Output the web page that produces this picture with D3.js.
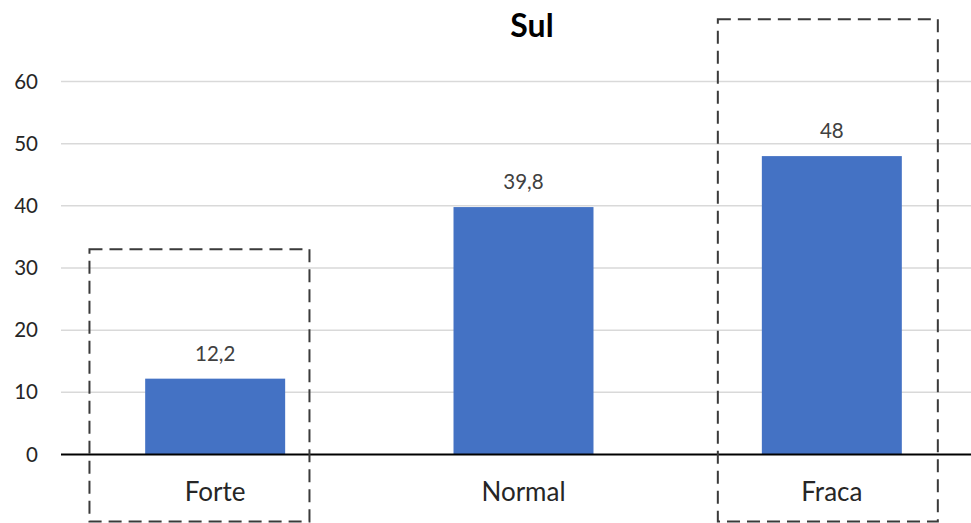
<!DOCTYPE html>
<html>
<head>
<meta charset="utf-8">
<script src="https://cdn.jsdelivr.net/npm/d3@7"></script>
<style>
  html, body { margin: 0; padding: 0; background: #fff; }
  svg { display: block; font-family: Lato, "Open Sans", sans-serif; }
</style>
</head>
<body>
<svg id="chart" width="971" height="523"></svg>
<script>
const title = "Sul";
const categories = ["Forte", "Normal", "Fraca"];
const values = [12.2, 39.8, 48];
const valueLabels = ["12,2", "39,8", "48"];
const yTicks = [0, 10, 20, 30, 40, 50, 60];
const highlightCats = ["Forte", "Fraca"];
const highlightTops = [33, 70];

const svg = d3.select("#chart");
const W = 971, H = 523;

const x = d3.scaleBand()
  .domain(categories)
  .range([61, 986])
  .paddingInner(0.546)
  .paddingOuter(0.273);

const y = d3.scaleLinear().domain([0, 60]).range([454.5, 81.5]);

// gridlines
svg.append("g")
  .selectAll("line")
  .data(yTicks.filter(d => d !== 0))
  .join("line")
  .attr("x1", 61).attr("x2", W)
  .attr("y1", d => y(d)).attr("y2", d => y(d))
  .attr("stroke", "#d9d9d9").attr("stroke-width", 1.5);

// y tick labels via axis
const yAxis = svg.append("g")
  .attr("transform", "translate(61,0)")
  .call(d3.axisLeft(y).tickValues(yTicks).tickSize(0).tickPadding(23).tickFormat(d3.format("d")));
yAxis.select(".domain").remove();
yAxis.selectAll("text")
  .attr("font-family", "Lato, 'Open Sans', sans-serif")
  .attr("font-size", 20.5)
  .attr("fill", "#262626");

// bars
svg.append("g")
  .selectAll("rect")
  .data(categories)
  .join("rect")
  .attr("x", d => x(d))
  .attr("width", x.bandwidth())
  .attr("y", (d, i) => y(values[i]))
  .attr("height", (d, i) => y(0) - y(values[i]))
  .attr("fill", "#4472C4");

// baseline axis
svg.append("line")
  .attr("x1", 61).attr("x2", W)
  .attr("y1", y(0)).attr("y2", y(0))
  .attr("stroke", "#000").attr("stroke-width", 2);

// data labels
svg.append("g")
  .selectAll("text")
  .data(categories)
  .join("text")
  .attr("x", d => x(d) + x.bandwidth() / 2)
  .attr("y", (d, i) => y(values[i]) - 18)
  .attr("text-anchor", "middle")
  .attr("font-size", 20.5)
  .attr("fill", "#404040")
  .text((d, i) => valueLabels[i]);

// category labels via axis
const xAxis = svg.append("g")
  .attr("transform", `translate(0,${y(0)})`)
  .call(d3.axisBottom(x).tickSize(0).tickPadding(0));
xAxis.select(".domain").remove();
xAxis.selectAll("text")
  .attr("dy", null)
  .attr("y", 46.5)
  .attr("font-family", "Lato, 'Open Sans', sans-serif")
  .attr("font-size", 26)
  .attr("fill", "#262626");

// dashed highlight boxes (shape annotations, positioned around their category)
const boxShift = [-125.7, -114];
svg.append("g")
  .selectAll("rect")
  .data(highlightCats)
  .join("rect")
  .attr("x", (d, i) => x(d) + x.bandwidth() / 2 + boxShift[i])
  .attr("width", 220)
  .attr("y", (d, i) => y(highlightTops[i]))
  .attr("height", (d, i) => 521.5 - y(highlightTops[i]))
  .attr("fill", "none")
  .attr("stroke", "#3a3a3a")
  .attr("stroke-width", 2)
  .attr("stroke-dasharray", "13,7");

// title
svg.append("text")
  .attr("x", 532)
  .attr("y", 37)
  .attr("text-anchor", "middle")
  .attr("font-size", 32)
  .attr("font-weight", "bold")
  .attr("fill", "#000")
  .text(title);
</script>
</body>
</html>
